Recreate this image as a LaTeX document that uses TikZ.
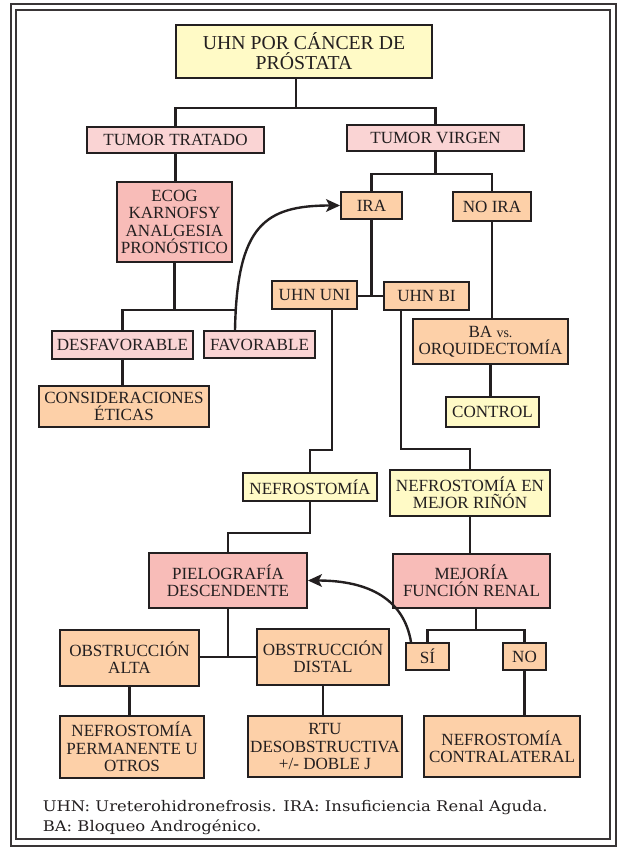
\documentclass[tikz,border=0pt]{standalone}
\usepackage{fontspec}
\setmainfont{Liberation Serif}
\newfontfamily\footfont[FakeStretch=1.12]{DejaVu Serif}
\usetikzlibrary{arrows.meta}
\definecolor{cyel}{RGB}{255,250,198}
\definecolor{cpink}{RGB}{250,212,212}
\definecolor{csal}{RGB}{248,188,184}
\definecolor{cpeach}{RGB}{253,208,168}
\definecolor{cline}{RGB}{35,31,32}
\tikzset{
  box/.style={draw=cline, line width=1.4pt, inner sep=0pt, align=center,
    font=\fontsize{12.8}{13}\selectfont, text=cline},
  ybox/.style={box, fill=cyel},
  pbox/.style={box, fill=cpink},
  sbox/.style={box, fill=csal},
  obox/.style={box, fill=cpeach},
  titlebox/.style={ybox, font=\fontsize{14.8}{15}\selectfont},
  conn/.style={draw=cline, line width=1.8pt},
  arr/.style={conn, -{Stealth[length=10.5pt,width=9.5pt,inset=2.5pt]}},
  frame/.style={draw=cline!90, line width=1.5pt},
  foot/.style={anchor=base west, inner sep=0pt, text=cline,
    font=\footfont\fontsize{11}{15}\selectfont},
}
\newcommand{\bx}[7]{\node[#6, minimum width={(#4-#2)*0.75pt}, minimum height={(#5-#3)*0.75pt}] (#1) at ({(#2+#4)/2},{(#3+#5)/2}) {#7};}
\begin{document}
\begin{tikzpicture}[x=0.75pt,y=-0.75pt]
\useasboundingbox (0,0) rectangle (617,848);
% frame
\draw[frame] (10.6,4) rectangle (615.5,846);
\draw[frame, line width=1.2pt] (16,10) rectangle (610,839);
% boxes
\bx{title}{176}{25}{432}{78}{titlebox}{UHN POR CÁNCER DE\\PRÓSTATA}
\bx{tt}{87}{127}{264}{153}{pbox}{TUMOR TRATADO}
\bx{tv}{347}{125}{524}{151}{pbox}{TUMOR VIRGEN}
\bx{ecog}{117}{182}{232}{262}{sbox}{ECOG\\KARNOFSY\\ANALGESIA\\PRONÓSTICO}
\bx{ira}{341}{192}{402}{219}{obox}{IRA}
\bx{noira}{453}{192}{531}{221}{obox}{NO IRA}
\bx{uni}{272}{281}{357}{309}{obox}{UHN UNI}
\bx{bi}{384}{282}{469}{310}{obox}{UHN BI}
\bx{desf}{52}{331}{193}{359}{pbox}{DESFAVORABLE}
\bx{fav}{204}{331}{315}{358}{pbox}{FAVORABLE}
\bx{ba}{413}{319}{568}{364}{obox}{BA {\fontsize{10.5}{13}\selectfont vs.}\\ORQUIDECTOMÍA}
\bx{cons}{39}{386}{209}{427}{obox}{CONSIDERACIONES\\ÉTICAS}
\bx{ctrl}{446}{397}{539}{427}{ybox}{CONTROL}
\bx{nef}{243}{473}{377}{501}{ybox}{NEFROSTOMÍA}
\bx{nefen}{390}{470}{550}{516}{ybox}{NEFROSTOMÍA EN\\MEJOR RIÑÓN}
\bx{pie}{149}{553}{307}{608}{sbox}{PIELOGRAFÍA\\DESCENDENTE}
\bx{mej}{393}{554}{550}{608}{sbox}{MEJORÍA\\FUNCIÓN RENAL}
\bx{alta}{60}{630}{199}{686}{obox}{OBSTRUCCIÓN\\ALTA}
\bx{dist}{257}{629}{389}{685}{obox}{OBSTRUCCIÓN\\DISTAL}
\bx{si}{406}{643}{449}{670}{obox}{SÍ}
\bx{no}{503}{643}{546}{670}{obox}{NO}
\bx{perm}{60}{716}{204}{778}{obox}{NEFROSTOMÍA\\PERMANENTE U\\OTROS}
\bx{rtu}{248}{716}{402}{777}{obox}{RTU\\DESOBSTRUCTIVA\\+/- DOBLE J}
\bx{contra}{424}{716}{580}{777}{obox}{NEFROSTOMÍA\\CONTRALATERAL}
% helper coordinates
\coordinate (t1) at (296,108);
\coordinate (y2) at (0,174);
\coordinate (y3) at (0,310);
\coordinate (fx) at (235,331);
\coordinate (y4) at (0,296);
\coordinate (u1) at (332,450);
\coordinate (b1) at (401,449);
\coordinate (y7) at (0,533);
\coordinate (m1) at (476,630);
\coordinate (s1) at (411,643);
\coordinate (y11) at (0,657);
% connectors
\draw[conn] (title.south -| t1) -- (t1);
\draw[conn] (tt.north) |- (t1 -| tv.north) -- (tv.north);
\draw[conn] (tt.south) -- (tt.south |- ecog.north);
\draw[conn] (tv.south) -- (tv.south |- y2);
\draw[conn] (ira.north) |- (y2 -| noira.north) -- (noira.north);
\draw[conn] (ecog.south) -- (ecog.south |- y3);
\draw[conn] (desf.north) |- (y3 -| fx);
\draw[conn] (desf.south) -- (desf.south |- cons.north);
\draw[arr] (fav.north -| fx) .. controls (237,225) and (265,205.5) .. (ira.west);
\draw[conn] (noira.south) -- (noira.south |- ba.north);
\draw[conn] (ba.south) -- (ba.south |- ctrl.north);
\draw[conn] (ira.south) -- (ira.south |- y4);
\draw[conn] (uni.east |- y4) -- (bi.west |- y4);
\draw[conn] (uni.south -| u1) -- (u1) -| (nef.north);
\draw[conn] (bi.south -| b1) -- (b1) -| (nefen.north);
\draw[conn] (nef.south) |- (y7 -| pie.north) -- (pie.north);
\draw[conn] (nefen.south) -- (nefen.south |- mej.north);
\draw[conn] (mej.south -| m1) -- (m1);
\draw[conn] (si.north) |- (m1) -| (no.north);
\draw[arr] (si.north -| s1) .. controls (404,600) and (370,580.5) .. (pie.east);
\draw[conn] (pie.south) -- (pie.south |- y11);
\draw[conn] (alta.east |- y11) -- (dist.west |- y11);
\draw[conn] (alta.south) -- (alta.south |- perm.north);
\draw[conn] (dist.south) -- (dist.south |- rtu.north);
\draw[conn] (no.south) -- (no.south |- contra.north);
% footer
\node[foot] (fn1) at (42.5,811) {UHN: Ureterohidronefrosis. IRA: Insuficiencia Renal Aguda.};
\node[foot] (fn2) at (42.5,831) {BA: Bloqueo Androgénico.};
\end{tikzpicture}
\end{document}
